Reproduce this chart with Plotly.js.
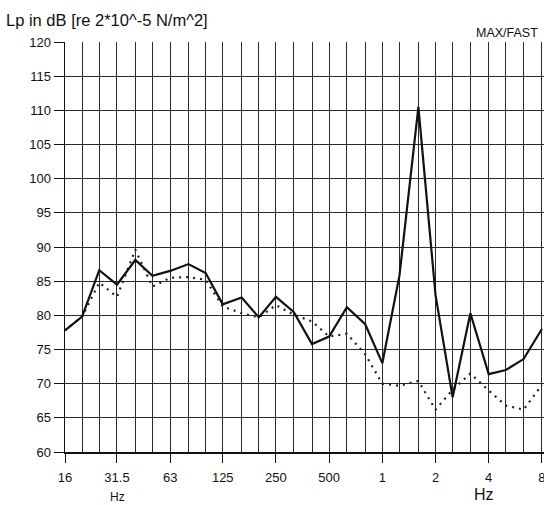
<!DOCTYPE html>
<html>
<head>
<meta charset="utf-8">
<script src="https://cdn.plot.ly/plotly-3.0.1.min.js"></script>
<style>html,body{margin:0;padding:0;background:#fff;}#chart{width:544px;height:505px;}</style>
</head>
<body>
<div id="chart"></div>
<script>
// Third-octave band centre frequencies (Hz)
const bands = [16, 20, 25, 31.5, 40, 50, 63, 80, 100, 125, 160, 200, 250, 315, 400, 500, 630, 800, 1000, 1250, 1600, 2000, 2500, 3150, 4000, 5000, 6300, 8000];
// Octave tick positions and labels
const octaveTicks = [16, 31.5, 63, 125, 250, 500, 1000, 2000, 4000, 8000];
const octaveLabels = ['16', '31.5', '63', '125', '250', '500', '1', '2', '4', '8'];
// Solid curve (dB)
const solidLevels = [77.8, 79.8, 86.6, 84.5, 88.1, 85.8, 86.5, 87.5, 86.2, 81.6, 82.6, 79.7, 82.7, 80.5, 75.8, 76.9, 81.2, 78.7, 73.0, 85.8, 110.5, 83.0, 68.0, 80.3, 71.4, 72.0, 73.6, 78.0];
// Dotted curve (dB)
const dottedLevels = [77.8, 79.8, 84.8, 82.7, 89.6, 84.2, 85.5, 85.6, 85.2, 81.3, 80.3, 79.7, 81.5, 80.1, 79.1, 76.9, 77.3, 74.3, 70.0, 69.7, 70.4, 66.2, 69.1, 71.5, 69.0, 66.8, 66.2, 69.8];

const fontFam = 'Liberation Sans, Arial, sans-serif';
const ink = '#111';
const gridCol = '#2a2a2a';

const traces = [
  {x: bands, y: dottedLevels, type: 'scatter', mode: 'lines',
   line: {color: '#222', width: 2.2, dash: '2px,5px'}, hoverinfo: 'skip'},
  {x: bands, y: solidLevels, type: 'scatter', mode: 'lines',
   line: {color: ink, width: 2.2}, hoverinfo: 'skip'}
];

const layout = {
  width: 544, height: 505,
  margin: {l: 65, r: 0, t: 42, b: 53, pad: 0},
  paper_bgcolor: '#fff', plot_bgcolor: '#fff',
  showlegend: false,
  font: {family: fontFam, size: 13, color: ink},
  xaxis: {
    type: 'log', range: [Math.log10(16), 3.915],
    tickmode: 'array', tickvals: octaveTicks, ticktext: octaveLabels,
    ticks: 'outside', ticklen: 9, tickwidth: 1, tickcolor: ink,
    ticklabelstandoff: 4, ticklabeloverflow: 'allow',
    showgrid: true, gridcolor: gridCol, gridwidth: 1,
    minor: {tickmode: 'array', tickvals: bands, showgrid: true, gridcolor: gridCol, gridwidth: 1, ticks: ''},
    showline: true, linecolor: ink, linewidth: 1.5, zeroline: false,
    tickfont: {family: fontFam, size: 13, color: ink}
  },
  yaxis: {
    range: [60, 120], tickmode: 'linear', tick0: 60, dtick: 5,
    ticks: 'outside', ticklen: 10, tickwidth: 1, tickcolor: ink,
    showgrid: true, gridcolor: gridCol, gridwidth: 1,
    showline: true, linecolor: ink, linewidth: 1.5, zeroline: false,
    tickfont: {family: fontFam, size: 13, color: ink}
  },
  annotations: [
    {text: 'Lp in dB [re 2*10^-5 N/m^2]', xref: 'paper', yref: 'paper', x: -0.1274, y: 1.0537,
     xanchor: 'left', yanchor: 'middle', showarrow: false, font: {family: fontFam, size: 16.5, color: ink}},
    {text: 'MAX/FAST', xref: 'paper', yref: 'paper', x: 0.9916, y: 1.022,
     xanchor: 'right', yanchor: 'middle', showarrow: false, font: {family: fontFam, size: 12.5, color: ink}},
    {text: 'Hz', xref: 'paper', yref: 'paper', x: 0.1106, y: -0.1098,
     xanchor: 'center', yanchor: 'middle', showarrow: false, font: {family: fontFam, size: 12, color: ink}},
    {text: 'Hz', xref: 'paper', yref: 'paper', x: 0.8747, y: -0.103,
     xanchor: 'center', yanchor: 'middle', showarrow: false, font: {family: fontFam, size: 16, color: ink}}
  ]
};

Plotly.newPlot('chart', traces, layout, {staticPlot: true, displayModeBar: false});
</script>
</body>
</html>
